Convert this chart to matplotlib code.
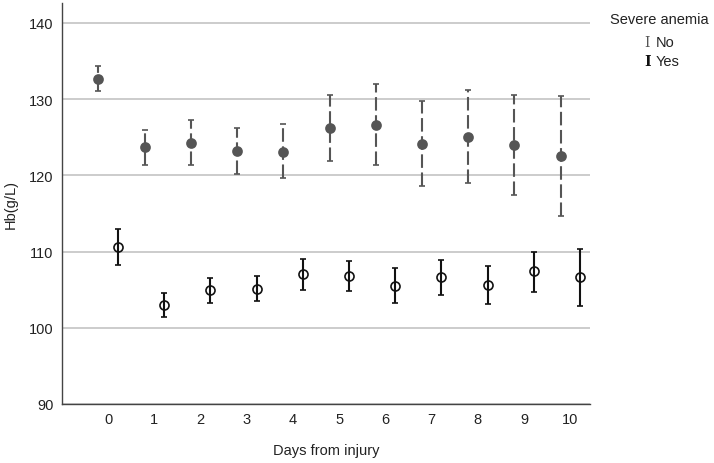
"""Hb por días desde la lesión, según anemia severa"""
import matplotlib
matplotlib.use("Agg")
import matplotlib.pyplot as plt
import numpy as np


# Datos
dias = [0, 1, 2, 3, 4, 5, 6, 7, 8, 9, 10]

media_no = [132.7, 123.7, 124.3, 123.2, 123.1, 126.2, 126.6, 124.1, 125.1, 124.0, 122.6]
sup_no = [134.3, 125.9, 127.3, 126.2, 126.8, 130.6, 132.0, 129.7, 131.2, 130.6, 130.4]
inf_no = [131.1, 121.4, 121.3, 120.2, 119.6, 121.9, 121.4, 118.6, 119.0, 117.4, 114.7]

media_si = [110.6, 103.0, 104.9, 105.1, 107.1, 106.8, 105.5, 106.6, 105.6, 107.4, 106.6]
sup_si = [113.0, 104.5, 106.5, 106.8, 109.0, 108.8, 107.8, 108.9, 108.1, 110.0, 110.3]
inf_si = [108.2, 101.4, 103.2, 103.5, 105.0, 104.8, 103.2, 104.3, 103.1, 104.7, 102.9]

ticks_y = [90, 100, 110, 120, 130, 140]

# Constantes
GRIS = "#555555"
NEGRO = "#111111"
TEXTO = "#222222"
DESPLAZAMIENTO = 0.21

plt.rcParams["font.family"] = ["Liberation Sans", "DejaVu Sans"]


def _barras_error(eje, x, media, sup, inf, color, relleno, estilo):
    # Dibuja puntos con barras de error (intervalos asimétricos)
    media = np.array(media)
    error = [media - np.array(inf), np.array(sup) - media]
    _, tapas, lineas = eje.errorbar(x, media, yerr=error, fmt="o", color=color,
                                    markersize=6.5, markerfacecolor=relleno,
                                    markeredgecolor=color, markeredgewidth=1.2,
                                    elinewidth=1.5, capsize=2.5, capthick=1.5,
                                    zorder=3)
    for linea in lineas:
        linea.set_linestyle(estilo)


figura = plt.figure(figsize=(7.14, 4.64), dpi=100)
eje = figura.add_axes([0.0868, 0.1272, 0.7392, 0.8638])

x = np.array(dias, dtype=float)
_barras_error(eje, x - DESPLAZAMIENTO, media_no, sup_no, inf_no, GRIS, GRIS, (0, (6.5, 2.2)))
_barras_error(eje, x + DESPLAZAMIENTO, media_si, sup_si, inf_si, NEGRO, "none", "-")

eje.set_xlim(-1, 10.42)
eje.set_ylim(90, 142.6)
eje.set_xticks(dias)
eje.set_yticks(ticks_y)
eje.tick_params(length=0, labelsize=10.5, colors=TEXTO, pad=6)
eje.yaxis.grid(True, color="#c4c4c4", linewidth=1.2)
eje.set_axisbelow(True)
for lado in ["top", "right"]:
    eje.spines[lado].set_visible(False)
for lado in ["left", "bottom"]:
    eje.spines[lado].set_color("#444444")
    eje.spines[lado].set_linewidth(1.0)

eje.set_xlabel("Days from injury", fontsize=10.5, color=TEXTO, labelpad=12)
eje.set_ylabel("Hb(g/L)", fontsize=10.5, color=TEXTO, labelpad=8)

# Leyenda manual
figura.text(0.855, 0.957, "Severe anemia", fontsize=10.5, color=TEXTO,
            va="center")
figura.text(0.903, 0.907, "I", fontsize=10, family="DejaVu Serif", color=GRIS,
            va="center")
figura.text(0.918, 0.907, "No", fontsize=10.5, color=TEXTO, va="center")
figura.text(0.903, 0.867, "I", fontsize=10, family="DejaVu Serif", color=NEGRO,
            va="center", fontweight="bold")
figura.text(0.918, 0.867, "Yes", fontsize=10.5, color=TEXTO, va="center")

figura.savefig("out.png", dpi=100)
